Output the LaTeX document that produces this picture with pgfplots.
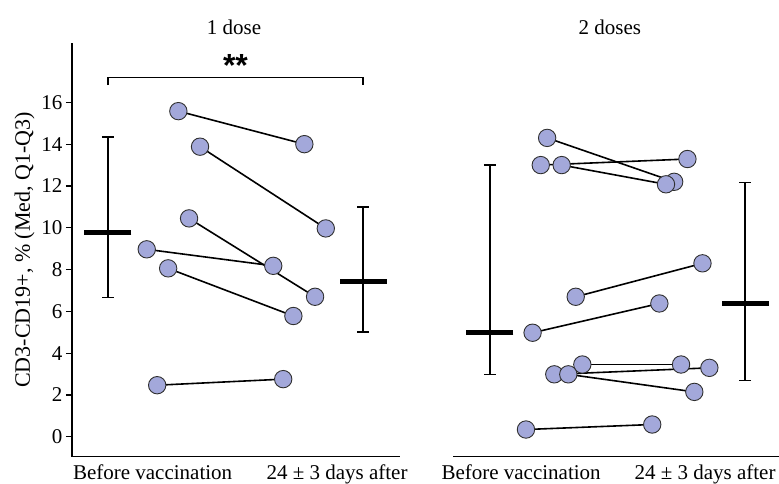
\documentclass[border=0pt]{standalone}
\usepackage{fontspec}
\setmainfont{Liberation Serif}
\newfontfamily\sansbold{Liberation Sans}
\usepackage{pgfplots}
\pgfplotsset{compat=1.18}
\usepackage{pgfplotstable}

\definecolor{ptfill}{HTML}{A3A8DA}
\definecolor{ptedge}{HTML}{303030}

% paired values: before (x1,y1) -> after (x2,y2)
\pgfplotstableread{
x1     y1     x2     y2
1.276  15.58  1.770  14.00
1.361  13.88  1.854  9.97
1.318  10.45  1.812  6.70
1.152  8.97   1.648  8.18
1.236  8.06   1.727  5.78
1.193  2.47   1.687  2.76
}\onedose

\pgfplotstableread{
x1     y1     x2     y2
1.224  14.30  1.722  12.20
1.199  13.00  1.774  13.29
1.281  13.00  1.690  12.08
1.336  6.70   1.833  8.30
1.167  4.98   1.664  6.38
1.362  3.46   1.749  3.46
1.252  2.99   1.860  3.30
1.307  2.99   1.801  2.15
1.141  0.35   1.636  0.59
}\twodoses

\pgfplotsset{
  panel/.style={
    scale only axis,
    anchor=south west,
    height=413.7pt,
    ymin=-0.95, ymax=18.84,
    axis x line*=bottom,
    x axis line style={-, line width=1.2pt},
    xtick style={draw=none},
    tick align=outside, major tick length=6pt,
    ticklabel style={font=\fontsize{21}{24}\selectfont},
    xticklabel style={inner sep=2pt},
    /pgf/number format/assume math mode=true,
    title style={font=\fontsize{21}{24}\selectfont, anchor=center, yshift=10pt},
    clip=false,
  },
  pairline/.style={black, line width=1.6pt, mark=none},
  pairpt/.style={only marks, mark=*, mark size=8.7pt,
    mark options={fill=ptfill, draw=ptedge, line width=0.9pt}},
  medbar/.style={black, line width=1.3pt, mark=-, mark size=23.5pt,
    mark options={line width=5.3pt},
    error bars/.cd, y dir=both, y explicit, error mark=|,
    error mark options={mark size=6pt, line width=1.3pt},
    error bar style={line width=1.3pt}},
}

\begin{document}
\begin{tikzpicture}
\useasboundingbox (0,0) rectangle (779pt,484pt);

\begin{axis}[panel,
  at={(72pt,27.3pt)}, width=328pt,
  xmin=0.859, xmax=2.145,
  xtick={1.175,1.898},
  xticklabels={Before vaccination, 24 ± 3 days after},
  axis y line*=left,
  y axis line style={-, line width=1.2pt},
  ytick={0,2,...,16},
  ytick style={line width=1.2pt, black},
  ylabel={CD3-CD19+, \% (Med, Q1-Q3)},
  ylabel style={font=\fontsize{22}{24}\selectfont},
  title={1 dose}, title style={at={(0.494,1)}},
]
\addplot[medbar] coordinates {(1,9.76) += (0,4.59) -= (0,3.09)};
\addplot[medbar] coordinates {(2,7.42) += (0,3.57) -= (0,2.40)};
\addplot[pairline, quiver={u=\thisrow{x2}-\thisrow{x1}, v=\thisrow{y2}-\thisrow{y1}}]
  table[x=x1, y=y1] {\onedose};
\addplot[pairpt] table[x=x1, y=y1] {\onedose};
\addplot[pairpt] table[x=x2, y=y2] {\onedose};
% significance bracket
\addplot[black, line width=1.2pt, mark=none] coordinates {(1,16.82) (1,17.2) (2,17.2) (2,16.82)};
\node[font=\sansbold\bfseries\fontsize{32}{32}\selectfont] at (axis cs:1.5,17.75) {**};
\end{axis}

\begin{axis}[panel,
  at={(453pt,27.3pt)}, width=326pt,
  xmin=0.855, xmax=2.133,
  xtick={1.122,1.843},
  xticklabels={Before vaccination, 24 ± 3 days after},
  axis y line=none,
  ytick=\empty,
  title={2 doses}, title style={at={(0.481,1)}},
]
\addplot[medbar] coordinates {(1,5.00) += (0,8.00) -= (0,2.01)};
\addplot[medbar] coordinates {(2,6.38) += (0,5.77) -= (0,3.67)};
\addplot[pairline, quiver={u=\thisrow{x2}-\thisrow{x1}, v=\thisrow{y2}-\thisrow{y1}}]
  table[x=x1, y=y1] {\twodoses};
\addplot[pairpt] table[x=x1, y=y1] {\twodoses};
\addplot[pairpt] table[x=x2, y=y2] {\twodoses};
\end{axis}
\end{tikzpicture}
\end{document}
